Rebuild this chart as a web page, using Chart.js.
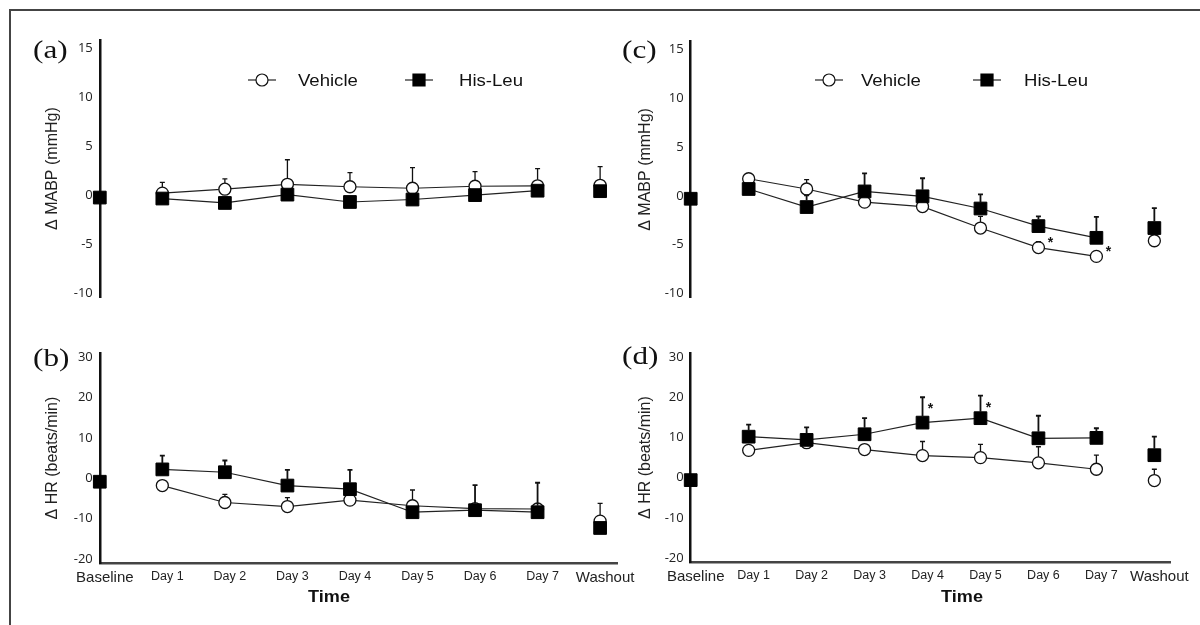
<!DOCTYPE html>
<html>
<head>
<meta charset="utf-8">
<title>MABP and HR</title>
<script src="https://cdn.jsdelivr.net/npm/chart.js@4.4.0/dist/chart.umd.min.js"></script>
<style>
  html, body { margin: 0; padding: 0; background: #fff; }
  #wrap { position: relative; width: 1200px; height: 625px; overflow: hidden; }
  #frame { position: absolute; left: 9px; top: 9px; width: 1200px; height: 700px; border-top: 2px solid #444; border-left: 2px solid #444; }
  canvas { position: absolute; left: 0; top: 0; }
</style>
</head>
<body>
<div id="wrap">
  <div id="frame"></div>
  <canvas id="chartA" width="1200" height="625"></canvas>
  <canvas id="chartB" width="1200" height="625"></canvas>
  <canvas id="chartC" width="1200" height="625"></canvas>
  <canvas id="chartD" width="1200" height="625"></canvas>
</div>
<script>
const timeLabels = ['Baseline', 'Day 1', 'Day 2', 'Day 3', 'Day 4', 'Day 5', 'Day 6', 'Day 7', 'Washout'];
const mabpTicks = [-10, -5, 0, 5, 10, 15];
const hrTicks = [-20, -10, 0, 10, 20, 30];

// (a) MABP
const mabpVehA = [null, 0.2, 0.6, 1.1, 0.85, 0.7, 0.9, 0.95, 1.0];
const mabpVehAErr = [null, 1.1, 1.05, 2.5, 1.45, 2.1, 1.5, 1.75, 1.9];
const mabpHisA = [-0.25, -0.35, -0.8, 0.05, -0.7, -0.45, 0.0, 0.45, 0.4];
const mabpHisAErr = [null, null, null, null, null, null, null, null, null];

// (b) HR
const hrVehB = [null, -1.8, -6.0, -7.0, -5.4, -6.8, -7.5, -7.6, -10.6];
const hrVehBErr = [null, null, 2.0, 2.2, null, 3.9, null, null, 4.4];
const hrHisB = [-0.85, 2.2, 1.5, -1.8, -2.7, -8.4, -7.9, -8.4, -12.3];
const hrHisBErr = [null, 3.4, 2.9, 3.9, 4.8, null, 6.2, 7.3, null];

// (c) MABP
const mabpVehC = [null, 1.75, 0.7, -0.65, -1.1, -3.3, -5.3, -6.2, -4.6];
const mabpVehCErr = [null, null, 0.95, null, null, 1.2, 0.6, null, null];
const mabpHisC = [-0.3, 0.7, -1.15, 0.45, -0.05, -1.3, -3.1, -4.3, -3.3];
const mabpHisCErr = [null, null, 1.2, 1.85, 1.85, 1.45, 1.0, 2.15, 2.05];

// (d) HR
const hrVehD = [null, 6.8, 8.7, 7.0, 5.5, 5.0, 3.7, 2.1, -0.7];
const hrVehDErr = [null, null, null, null, 3.5, 3.3, 4.0, 3.5, 2.8];
const hrHisD = [-0.6, 10.2, 9.4, 10.8, 13.7, 14.8, 9.8, 9.9, 5.6];
const hrHisDErr = [null, 3.0, 3.1, 4.0, 6.3, 5.6, 5.6, 2.4, 4.6];

// indices marked with * (p < 0.05)
const sigVehC = [6, 7];
const sigHisD = [4, 5];

Chart.defaults.font.family = '"Liberation Sans", Arial, sans-serif';
Chart.defaults.color = '#222';

function toPoints(values) {
  return values.map((v, i) => ({ x: i, y: v }));
}

// baseline and washout are not joined to the daily line
const hideEnds = {
  borderColor: c => (c.p0DataIndex === 0 || c.p1DataIndex === timeLabels.length - 1) ? 'rgba(0,0,0,0)' : undefined
};

function drawScaledText(ctx, text, x, y, font, sx, align) {
  ctx.save();
  ctx.translate(x, y);
  ctx.scale(sx, 1);
  ctx.font = font;
  ctx.fillStyle = '#111';
  ctx.textAlign = align;
  ctx.textBaseline = 'alphabetic';
  ctx.fillText(text, 0, 0);
  ctx.restore();
}

const errorBars = {
  id: 'errorBars',
  afterDatasetsDraw(chart) {
    const ctx = chart.ctx;
    const yScale = chart.scales.y;
    chart.data.datasets.forEach((ds, di) => {
      if (!ds.errors) return;
      const meta = chart.getDatasetMeta(di);
      const half = ds.pointStyle === 'rect' ? 6.5 : 6;
      ctx.save();
      ctx.strokeStyle = '#111';
      ctx.lineWidth = ds.errorWidth;
      ds.errors.forEach((e, i) => {
        const v = ds.data[i].y;
        if (e == null || v == null) return;
        const pt = meta.data[i];
        const top = yScale.getPixelForValue(v + e);
        ctx.beginPath();
        ctx.moveTo(pt.x, pt.y - half);
        ctx.lineTo(pt.x, top);
        ctx.moveTo(pt.x - 2.5, top);
        ctx.lineTo(pt.x + 2.5, top);
        ctx.stroke();
      });
      ctx.restore();
    });
  }
};

const decor = {
  id: 'decor',
  afterDraw(chart, args, o) {
    const ctx = chart.ctx;
    drawScaledText(ctx, o.letter, o.letterX, o.letterY, '26px "Liberation Serif"', 1.2, 'left');

    if (o.legend) {
      o.legend.forEach(item => {
        const ds = chart.data.datasets[item.datasetIndex];
        ctx.save();
        ctx.strokeStyle = '#222';
        ctx.lineWidth = 1.2;
        ctx.beginPath();
        ctx.moveTo(item.x - 14, o.legendY);
        ctx.lineTo(item.x + 14, o.legendY);
        ctx.stroke();
        ctx.fillStyle = ds.pointBackgroundColor;
        ctx.strokeStyle = ds.pointBorderColor;
        Chart.helpers.drawPoint(ctx, {
          pointStyle: ds.pointStyle,
          radius: ds.pointStyle === 'rect' ? 8.5 : 6,
          borderWidth: ds.pointBorderWidth,
          rotation: 0
        }, item.x, o.legendY);
        ctx.restore();
        drawScaledText(ctx, ds.label, item.textX, o.legendY + 6, '16px "Liberation Sans"', 1.16, 'left');
      });
    }

    if (o.timeX != null) {
      drawScaledText(ctx, 'Time', o.timeX, o.timeY, 'bold 16px "Liberation Sans"', 1.13, 'center');
    }

    if (o.stars) {
      const s = o.stars;
      const ds = chart.data.datasets[s.datasetIndex];
      const meta = chart.getDatasetMeta(s.datasetIndex);
      s.indices.forEach(i => {
        const pt = meta.data[i];
        let y = pt.y;
        if (s.fromError && ds.errors[i] != null) {
          y = chart.scales.y.getPixelForValue(ds.data[i].y + ds.errors[i]);
        }
        ctx.save();
        ctx.font = 'bold 14px "Liberation Sans"';
        ctx.fillStyle = '#111';
        ctx.textAlign = 'center';
        ctx.textBaseline = 'middle';
        ctx.fillText('*', pt.x + s.dx, y + s.dy + 3);
        ctx.restore();
      });
    }
  }
};

function makePanel(id, p) {
  const datasets = [
    {
      label: 'Vehicle',
      data: toPoints(p.veh),
      errors: p.vehErr,
      errorWidth: 1.3,
      order: 1,
      borderColor: '#222',
      borderWidth: 1.2,
      pointStyle: 'circle',
      pointRadius: 6,
      pointBackgroundColor: '#fff',
      pointBorderColor: '#111',
      pointBorderWidth: 1.3,
      segment: hideEnds,
      tension: 0,
      clip: false
    },
    {
      label: 'His-Leu',
      data: toPoints(p.his),
      errors: p.hisErr,
      errorWidth: 1.8,
      order: 0,
      borderColor: '#222',
      borderWidth: 1.2,
      pointStyle: 'rect',
      pointRadius: 9,
      pointBackgroundColor: '#000',
      pointBorderColor: '#000',
      pointBorderWidth: 1,
      segment: hideEnds,
      tension: 0,
      clip: false
    }
  ];

  return new Chart(document.getElementById(id), {
    type: 'line',
    data: { datasets: datasets },
    plugins: [errorBars, decor],
    options: {
      responsive: false,
      devicePixelRatio: 1,
      animation: false,
      events: [],
      layout: { padding: p.padding },
      scales: {
        x: {
          type: 'linear',
          display: p.showX,
          min: 0,
          max: 8.27,
          afterBuildTicks: s => { s.ticks = timeLabels.map((_, i) => ({ value: i })); },
          afterFit: s => { s.height = p.showX ? 40 : 0; },
          grid: { display: false, drawTicks: false },
          border: { display: true, color: '#444', width: 2.5 },
          ticks: {
            padding: 6,
            labelOffset: 5,
            maxRotation: 0,
            autoSkip: false,
            color: '#222',
            font: c => ({
              family: '"Liberation Sans"',
              size: (c.index === 0 || c.index === timeLabels.length - 1) ? 15 : 12.5
            }),
            callback: v => timeLabels[v]
          }
        },
        y: {
          min: p.yMin,
          max: p.yMax,
          afterBuildTicks: s => { s.ticks = p.yTicks.map(v => ({ value: v })); },
          afterFit: s => { s.width = p.yWidth; },
          grid: { display: false, drawTicks: false },
          border: { display: true, color: '#111', width: 2.5 },
          ticks: {
            padding: 7,
            color: '#222',
            font: { family: '"Open Sans"', size: 13 }
          },
          title: {
            display: true,
            text: p.yTitle,
            color: '#222',
            padding: 0,
            font: { family: '"Liberation Sans"', size: 16 }
          }
        }
      },
      plugins: {
        legend: { display: false },
        tooltip: { enabled: false },
        decor: p.decor
      }
    }
  });
}

makePanel('chartA', {
  veh: mabpVehA, vehErr: mabpVehAErr, his: mabpHisA, hisErr: mabpHisAErr,
  showX: false, yMin: -10.4, yMax: 15.8, yTicks: mabpTicks, yWidth: 56.4,
  yTitle: 'Δ MABP (mmHg)',
  padding: { left: 43.4, right: 583, top: 40, bottom: 327.8 },
  decor: {
    letter: '(a)', letterX: 33, letterY: 58,
    legendY: 80,
    legend: [{ datasetIndex: 0, x: 262, textX: 298 }, { datasetIndex: 1, x: 419, textX: 459 }]
  }
});

makePanel('chartB', {
  veh: hrVehB, vehErr: hrVehBErr, his: hrHisB, hisErr: hrHisBErr,
  showX: true, yMin: -21, yMax: 31, yTicks: hrTicks, yWidth: 56.4,
  yTitle: 'Δ HR (beats/min)',
  padding: { left: 43.4, right: 583, top: 353.1, bottom: 21.9 },
  decor: { letter: '(b)', letterX: 33, letterY: 366, timeX: 329, timeY: 602 }
});

makePanel('chartC', {
  veh: mabpVehC, vehErr: mabpVehCErr, his: mabpHisC, hisErr: mabpHisCErr,
  showX: false, yMin: -10.4, yMax: 15.8, yTicks: mabpTicks, yWidth: 54.3,
  yTitle: 'Δ MABP (mmHg)',
  padding: { left: 636.4, right: 30, top: 41.5, bottom: 327.6 },
  decor: {
    letter: '(c)', letterX: 622, letterY: 58,
    legendY: 80,
    legend: [{ datasetIndex: 0, x: 829, textX: 861 }, { datasetIndex: 1, x: 987, textX: 1024 }],
    stars: { datasetIndex: 0, indices: sigVehC, dx: 12, dy: -7, fromError: false }
  }
});

makePanel('chartD', {
  veh: hrVehD, vehErr: hrVehDErr, his: hrHisD, hisErr: hrHisDErr,
  showX: true, yMin: -21, yMax: 31, yTicks: hrTicks, yWidth: 54.3,
  yTitle: 'Δ HR (beats/min)',
  padding: { left: 636.4, right: 30, top: 353, bottom: 22.8 },
  decor: {
    letter: '(d)', letterX: 622, letterY: 364, timeX: 962, timeY: 602,
    stars: { datasetIndex: 1, indices: sigHisD, dx: 8, dy: 9, fromError: true }
  }
});
</script>
</body>
</html>
